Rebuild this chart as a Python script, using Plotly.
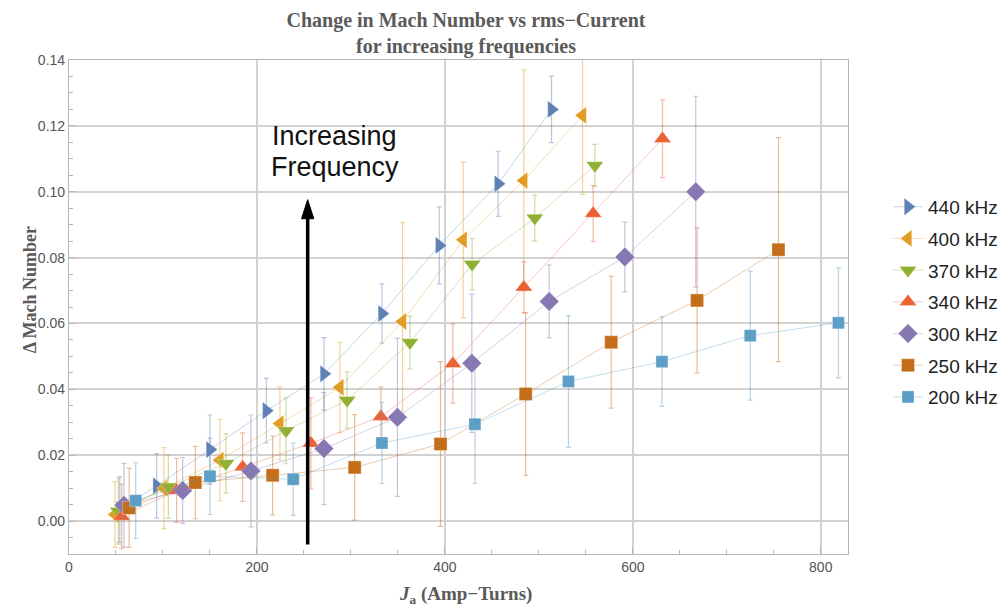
import plotly.graph_objects as go

# ---- data ----
series_names = ["440 kHz", "400 kHz", "370 kHz", "340 kHz", "300 kHz", "250 kHz", "200 kHz"]

x440 = [54, 93.3, 150, 210, 271.3, 333, 394, 456.7, 513.5]
y440 = [0.0035, 0.0107, 0.0217, 0.0335, 0.0447, 0.0630, 0.0837, 0.1024, 0.1250]
e440 = [0.010, 0.0098, 0.0105, 0.0098, 0.011, 0.009, 0.0117, 0.0099, 0.0101]

x400 = [49, 101, 160.6, 224.5, 288.3, 355, 419.5, 484, 546.5]
y400 = [0.0020, 0.0100, 0.0185, 0.0296, 0.0406, 0.0606, 0.0854, 0.1034, 0.1232]
e400 = [0.010, 0.0123, 0.0124, 0.011, 0.0137, 0.030, 0.0236, 0.0336, 0.024]

x370 = [52.5, 105.7, 167, 230.9, 296, 362.8, 429, 495.7, 559.6]
y370 = [0.0030, 0.0104, 0.0175, 0.0274, 0.0367, 0.0542, 0.0780, 0.0920, 0.1080]
e370 = [0.010, 0.0096, 0.009, 0.010, 0.0085, 0.008, 0.0078, 0.007, 0.0064]

x340 = [56, 114.5, 184.8, 257.4, 331.9, 408.5, 484, 557.8, 631.6]
y340 = [0.0014, 0.0093, 0.0164, 0.0236, 0.0317, 0.0478, 0.0710, 0.0934, 0.1161]
e340 = [0.0098, 0.0097, 0.0104, 0.0138, 0.009, 0.012, 0.0078, 0.0085, 0.0118]

x300 = [58.5, 121, 193.6, 271.3, 349.5, 428.7, 511, 591.5, 667]
y300 = [0.0048, 0.0093, 0.0152, 0.0220, 0.0315, 0.0479, 0.0667, 0.0802, 0.1000]
e300 = [0.0127, 0.010, 0.017, 0.017, 0.024, 0.021, 0.011, 0.0106, 0.029]

x250 = [64, 134.4, 216.7, 304, 395.4, 486, 577, 668.4, 755]
y250 = [0.0040, 0.0117, 0.0139, 0.0163, 0.0234, 0.0386, 0.0543, 0.0670, 0.0824]
e250 = [0.012, 0.011, 0.012, 0.016, 0.025, 0.0247, 0.020, 0.022, 0.034]

x200 = [71, 150, 238.6, 333, 432, 531.5, 631, 725, 818.8]
y200 = [0.0062, 0.0136, 0.0127, 0.0237, 0.0294, 0.0424, 0.0484, 0.0563, 0.0602]
e200 = [0.0115, 0.0116, 0.011, 0.0123, 0.018, 0.020, 0.0136, 0.0196, 0.0167]

x_ticks = [0, 200, 400, 600, 800]
y_ticks = [0.00, 0.02, 0.04, 0.06, 0.08, 0.10, 0.12, 0.14]

# annotation positions (data coords)
label_x = 283
label_lines = ["Increasing", "Frequency"]
label_y = [0.1168, 0.1074]
arrow_x = 254
arrow_y_tail = -0.0071
arrow_y_head = 0.0976
arrow_head_len = 0.0058
arrow_head_halfwidth = 6.5

# ---- styling ----
colors = ["#5E81B5", "#E19C24", "#8FB032", "#EB6235", "#8778B3", "#C56E1A", "#5D9EC7"]
symbols = ["triangle-right", "triangle-left", "triangle-down", "triangle-up", "diamond", "square", "square"]
sizes = [15, 15, 15, 15, 15, 13, 12]

def rgba(hexc, a):
    h = hexc.lstrip("#")
    r, g, b = int(h[0:2], 16), int(h[2:4], 16), int(h[4:6], 16)
    return f"rgba({r},{g},{b},{a})"

data = [(x440, y440, e440), (x400, y400, e400), (x370, y370, e370), (x340, y340, e340),
        (x300, y300, e300), (x250, y250, e250), (x200, y200, e200)]

fig = go.Figure()
for i, (xs, ys, es) in enumerate(data):
    fig.add_trace(go.Scatter(
        x=xs, y=ys, name=series_names[i], mode="lines+markers",
        line=dict(color=rgba(colors[i], 0.35), width=1),
        marker=dict(symbol=symbols[i], size=sizes[i], color=colors[i],
                    line=dict(width=0.6, color=rgba("#ffffff", 0.5))),
        error_y=dict(type="data", array=es, visible=True, color=rgba(colors[i], 0.45),
                     thickness=1.2, width=2.5),
        legendgroup=series_names[i],
    ))

axis_common = dict(
    showline=True, mirror=True, linecolor="#b5b5b5", linewidth=1.2,
    showgrid=True, gridcolor="#d2d2d2", gridwidth=1.5,
    ticks="inside", ticklen=6, tickcolor="#b5b5b5", tickwidth=1,
    zeroline=False, automargin=False,
    tickfont=dict(family="Liberation Sans, Arial", size=14, color="#555555"),
)

fig.update_xaxes(
    range=[0, 829], tickvals=x_ticks, ticktext=[str(v) for v in x_ticks],
    minor=dict(dtick=50, tick0=0, ticks="inside", ticklen=4, tickcolor="#b5b5b5", showgrid=False),
    **axis_common,
)
fig.update_yaxes(
    range=[-0.01, 0.14], tickvals=y_ticks, ticktext=[f"{v:.2f}" for v in y_ticks],
    minor=dict(dtick=0.005, tick0=0, ticks="inside", ticklen=4, tickcolor="#b5b5b5", showgrid=False),
    **axis_common,
)

serif = "Liberation Serif, Times New Roman"
fig.update_layout(
    width=1000, height=601,
    margin=dict(l=61, r=160, t=52, b=55),
    paper_bgcolor="white", plot_bgcolor="white",
    title=dict(text="<b>Change in Mach Number vs rms\u2212Current<br>for increasing frequencies</b>",
               x=0.458, xref="container", xanchor="center", y=0.968, yanchor="middle",
               font=dict(family=serif, size=20, color="#5a5a5a")),
    legend=dict(x=0.880, y=0.511, xref="container", yref="container",
                xanchor="left", yanchor="middle",
                font=dict(family="Liberation Sans, Arial", size=19, color="#222222"),
                tracegroupgap=4, bgcolor="rgba(0,0,0,0)"),
    showlegend=True,
)

# axis titles as annotations (positioned like the reference)
fig.add_annotation(
    x=0.5096, y=-0.083, xref="paper", yref="paper", showarrow=False,
    text="<b><i>J</i><sub>a</sub> (Amp\u2212Turns)</b>",
    font=dict(family=serif, size=19, color="#5a5a5a"), xanchor="center", yanchor="middle",
)
fig.add_annotation(
    x=-0.050, y=0.534, xref="paper", yref="paper", showarrow=False, textangle=-90,
    text="<b>\u0394 Mach Number</b>",
    font=dict(family=serif, size=18, color="#5a5a5a"), xanchor="center", yanchor="middle",
)

for txt, yy in zip(label_lines, label_y):
    fig.add_annotation(
        x=label_x, y=yy, xref="x", yref="y", text=txt, showarrow=False,
        font=dict(family="Liberation Sans, Arial", size=27, color="#111111"),
        xanchor="center", yanchor="middle",
    )

# arrow: shaft + head as shapes
fig.add_shape(type="line", xref="x", yref="y",
              x0=arrow_x, x1=arrow_x, y0=arrow_y_tail, y1=arrow_y_head - arrow_head_len * 0.8,
              line=dict(color="black", width=3.5))
fig.add_shape(type="path", xref="x", yref="y",
              path=(f"M {arrow_x - arrow_head_halfwidth},{arrow_y_head - arrow_head_len} "
                    f"L {arrow_x},{arrow_y_head} "
                    f"L {arrow_x + arrow_head_halfwidth},{arrow_y_head - arrow_head_len} Z"),
              fillcolor="black", line=dict(color="black", width=1))

fig.write_html("out.html")
